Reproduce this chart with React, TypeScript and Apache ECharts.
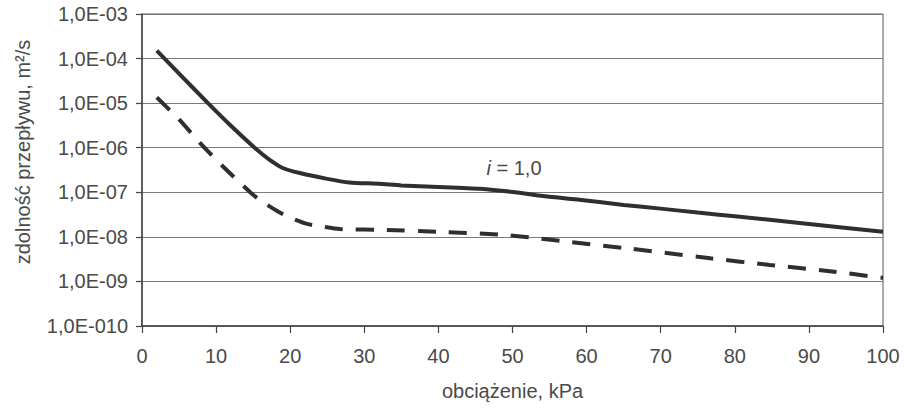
import React, { useEffect, useRef } from "react";
import * as echarts from "echarts";

// load (kPa) and flow capacity (m²/s)
const solidLoad = [2, 5.5, 8.9, 12, 15.2, 17, 19, 21.3, 25, 28, 32, 35, 40, 45.6, 50, 55, 59, 65, 70, 75, 80, 90, 100];
const solidFlow = [1.5e-4, 3.8e-5, 1.0e-5, 3.1e-6, 1.0e-6, 5.7e-7, 3.5e-7, 2.7e-7, 2.0e-7, 1.66e-7, 1.55e-7, 1.42e-7, 1.32e-7, 1.2e-7, 1.02e-7, 7.9e-8, 6.8e-8, 5.2e-8, 4.3e-8, 3.5e-8, 2.9e-8, 1.95e-8, 1.3e-8];

const dashedLoad = [2, 5, 8.2, 11, 14.6, 16, 18.6, 20, 22.3, 24.3, 26.7, 33, 40, 48.7, 52.8, 57.4, 66, 76.7, 84.7, 92.8, 100];
const dashedFlow = [1.35e-5, 4.3e-6, 1.1e-6, 3.7e-7, 1.0e-7, 6.5e-8, 3.5e-8, 2.7e-8, 1.95e-8, 1.7e-8, 1.5e-8, 1.43e-8, 1.3e-8, 1.12e-8, 9.5e-9, 7.8e-9, 5.4e-9, 3.3e-9, 2.35e-9, 1.7e-9, 1.2e-9];

const yTickLabels = ["1,0E-010", "1,0E-09", "1,0E-08", "1,0E-07", "1,0E-06", "1,0E-05", "1,0E-04", "1,0E-03"];
const yMinExp = -10;
const xTicks = [0, 10, 20, 30, 40, 50, 60, 70, 80, 90, 100];

const seriesLabel = { load: 50.2, flow: 3.5e-7, text: "{it|i} = 1,0" };
const xAxisName = "obciążenie, kPa";
const yAxisName = "zdolność przepływu, m²/s";

const FONT = "'Liberation Sans', Arial, sans-serif";
const TEXT = "#4a4a4a";
const LINE = "#2f2f2f";

export default function App() {
  const ref = useRef<HTMLDivElement>(null);
  useEffect(() => {
    if (!ref.current) return;
    const chart = echarts.init(ref.current, undefined, { renderer: "svg" });
    chart.setOption({
      animation: false,
      backgroundColor: "#ffffff",
      textStyle: { fontFamily: FONT },
      grid: {
        left: 142,
        top: 14,
        right: 21,
        bottom: 84,
        show: true,
        borderColor: "#555",
        borderWidth: 1,
        backgroundColor: "transparent",
      },
      xAxis: {
        type: "value",
        min: xTicks[0],
        max: xTicks[xTicks.length - 1],
        interval: 10,
        name: xAxisName,
        nameLocation: "middle",
        nameGap: 55,
        nameTextStyle: { fontSize: 20, color: TEXT, fontFamily: FONT },
        axisLine: { show: true, lineStyle: { color: "#444", width: 1.5 } },
        axisTick: { show: true, inside: false, length: 7, lineStyle: { color: "#444", width: 1.2 } },
        axisLabel: { fontSize: 20, color: TEXT, margin: 20, fontFamily: FONT },
        splitLine: { show: false },
      },
      yAxis: {
        type: "log",
        logBase: 10,
        min: Math.pow(10, yMinExp),
        max: 1e-3,
        interval: 1,
        axisLine: { show: true, lineStyle: { color: "#444", width: 1.5 } },
        axisTick: { show: true, inside: false, length: 6, lineStyle: { color: "#444", width: 1.2 } },
        axisLabel: {
          fontSize: 20,
          color: TEXT,
          margin: 14,
          fontFamily: FONT,
          formatter: (v: number) => {
            const idx = Math.round(Math.log10(v)) - yMinExp;
            return yTickLabels[idx] ?? "";
          },
        },
        splitLine: { show: true, lineStyle: { color: "#7a7a7a", width: 1.2 } },
      },
      graphic: [
        {
          type: "text",
          x: 23,
          y: 152,
          rotation: Math.PI / 2,
          style: {
            text: yAxisName,
            fill: TEXT,
            font: `20px ${FONT}`,
            textAlign: "center",
            textVerticalAlign: "middle",
            align: "center",
            verticalAlign: "middle",
          },
        },
      ],
      series: [
        {
          type: "line",
          name: "solid",
          data: solidLoad.map((x, i) => [x, solidFlow[i]]),
          showSymbol: false,
          smooth: 0.2,
          lineStyle: { color: LINE, width: 4 },
          markPoint: {
            symbol: "circle",
            symbolSize: 0,
            silent: true,
            data: [{ coord: [seriesLabel.load, seriesLabel.flow] }],
            label: {
              show: true,
              position: "inside",
              formatter: seriesLabel.text,
              color: TEXT,
              fontSize: 20,
              fontFamily: FONT,
              rich: {
                it: { fontStyle: "italic", fontSize: 20, color: TEXT, fontFamily: FONT },
              },
            },
          },
        },
        {
          type: "line",
          name: "dashed",
          data: dashedLoad.map((x, i) => [x, dashedFlow[i]]),
          showSymbol: false,
          smooth: 0.2,
          lineStyle: { color: LINE, width: 4, type: [18, 13] },
        },
      ],
    });
    return () => chart.dispose();
  }, []);
  return (
    <div
      ref={ref}
      style={{ position: "fixed", left: 0, top: 0, width: 904, height: 410 }}
    />
  );
}
